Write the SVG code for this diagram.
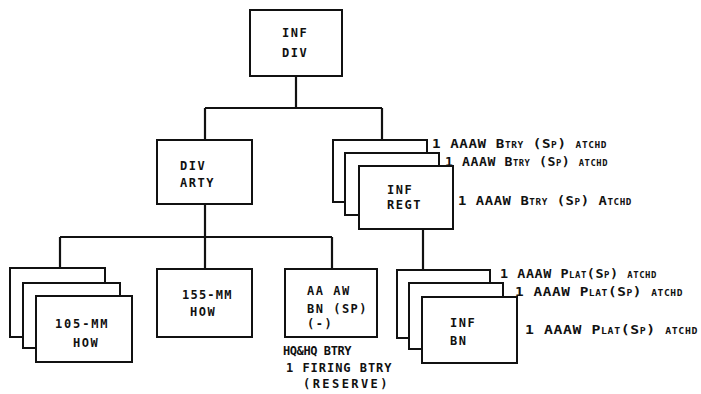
<svg xmlns="http://www.w3.org/2000/svg" width="701" height="394" viewBox="0 0 701 394">
<style>
.box{fill:#fff;stroke:#111;stroke-width:2}
.ln{fill:none;stroke:#111;stroke-width:2.2}
text{font-family:"DejaVu Sans Mono","Liberation Mono",monospace;font-weight:bold;font-size:12px;fill:#111;letter-spacing:1.5px}
.lab{font-variant:small-caps;letter-spacing:0.5px}
</style>
<rect width="701" height="394" fill="#fff"/>
<g id="connectors">
<path class="ln" d="M296,76V108M205,108H382M205,108V140M382,108V140"/>
<path class="ln" d="M205,204V237M60,237H332M60,237V268M205,237V269M332,237V269"/>
<path class="ln" d="M423,229V270"/>
</g>
<g id="inf-div">
<rect class="box" x="250" y="10" width="92" height="66"/>
<text x="282" y="37">INF</text>
<text x="282" y="57">DIV</text>
</g>
<g id="div-arty">
<rect class="box" x="157" y="140" width="95" height="64"/>
<text x="180" y="170">DIV</text>
<text x="180" y="187">ARTY</text>
</g>
<g id="inf-regt">
<rect class="box" x="333" y="140" width="94" height="62"/>
<rect class="box" x="345" y="153" width="94" height="62"/>
<rect class="box" x="359" y="166" width="94" height="63"/>
<text x="387" y="194">INF</text>
<text x="387" y="209">REGT</text>
<text class="lab" x="432" y="148" textLength="175" lengthAdjust="spacingAndGlyphs">1 AAAW Btry (Sp) atchd</text>
<text class="lab" x="445" y="166" textLength="163" lengthAdjust="spacingAndGlyphs">1 AAAW Btry (Sp) atchd</text>
<text class="lab" x="458" y="205" textLength="174" lengthAdjust="spacingAndGlyphs">1 AAAW Btry (Sp) Atchd</text>
</g>
<g id="how-105">
<rect class="box" x="10" y="268" width="95" height="69"/>
<rect class="box" x="23" y="283" width="97" height="65"/>
<rect class="box" x="36" y="296" width="96" height="66"/>
<text x="55" y="328" textLength="54">105-MM</text>
<text x="73" y="347">HOW</text>
</g>
<g id="how-155">
<rect class="box" x="157" y="269" width="95" height="68"/>
<text x="182" y="299" textLength="51">155-MM</text>
<text x="190" y="316">HOW</text>
</g>
<g id="aa-aw-bn">
<rect class="box" x="285" y="269" width="92" height="68"/>
<text x="307" y="295">AA AW</text>
<text x="307" y="313">BN (SP)</text>
<text x="307" y="328">(-)</text>
<text x="283" y="355" textLength="70">HQ&amp;HQ BTRY</text>
<text x="286" y="372" textLength="107">1 FIRING BTRY</text>
<text x="303" y="388" textLength="86">(RESERVE)</text>
</g>
<g id="inf-bn">
<rect class="box" x="397" y="270" width="93" height="68"/>
<rect class="box" x="409" y="283" width="94" height="66"/>
<rect class="box" x="422" y="297" width="95" height="66"/>
<text x="450" y="327">INF</text>
<text x="450" y="345">BN</text>
<text class="lab" x="500" y="278" textLength="157" lengthAdjust="spacingAndGlyphs">1 AAAW Plat(Sp) atchd</text>
<text class="lab" x="515" y="296" textLength="168" lengthAdjust="spacingAndGlyphs">1 AAAW Plat(Sp) atchd</text>
<text class="lab" x="525" y="334" textLength="173" lengthAdjust="spacingAndGlyphs">1 AAAW Plat(Sp) atchd</text>
</g>
</svg>
